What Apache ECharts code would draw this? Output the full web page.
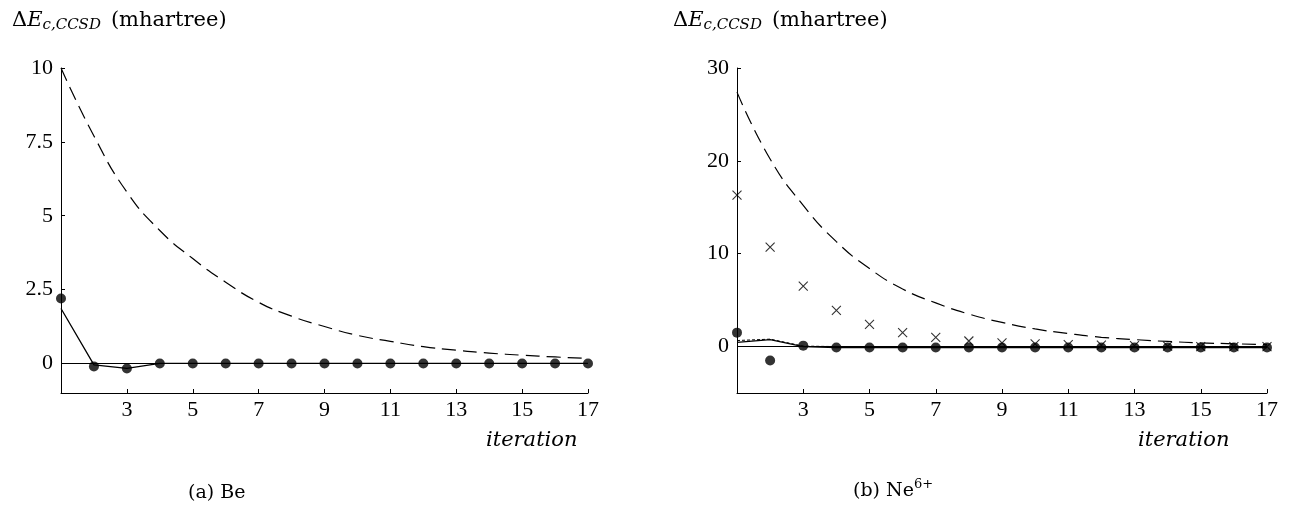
<!DOCTYPE html>
<html>
<head>
<meta charset="utf-8">
<script src="https://cdn.jsdelivr.net/npm/echarts@6/dist/echarts.min.js"></script>
<style>
  html, body { margin: 0; padding: 0; background: #fff; }
  #container { width: 1289px; height: 506px; }
</style>
</head>
<body>
<div id="container"></div>
<script>
// iteration numbers (x)
const iterations = [1, 2, 3, 4, 5, 6, 7, 8, 9, 10, 11, 12, 13, 14, 15, 16, 17];
const xTickLabels = [3, 5, 7, 9, 11, 13, 15, 17];

// (a) Be
const beDashed = [10, 7.7, 5.8, 4.5, 3.55, 2.75, 2.07, 1.6, 1.25, 0.95, 0.75, 0.57, 0.45, 0.35, 0.28, 0.22, 0.17];
const beSolid = [1.86, -0.05, -0.17, 0, 0, 0, 0, 0, 0, 0, 0, 0, 0, 0, 0, 0, 0];
const beDots = [2.2, -0.1, -0.17, 0, 0, 0, 0, 0, 0, 0, 0, 0, 0, 0, 0, 0, 0];
const beYTicks = [0, 2.5, 5, 7.5, 10];

// (b) Ne6+
const neDashed = [27.4, 20.2, 15.2, 11.3, 8.4, 6.2, 4.7, 3.5, 2.6, 1.9, 1.4, 1.0, 0.75, 0.55, 0.4, 0.3, 0.2];
const neSolid = [0.45, 0.75, 0, -0.1, -0.1, -0.1, -0.1, -0.1, -0.1, -0.1, -0.1, -0.1, -0.1, -0.1, -0.1, -0.1, -0.1];
const neDotted = [0.65, 0.8, 0.05, 0, 0, 0, 0, 0, 0, 0, 0, 0, 0, 0, 0, 0, 0];
const neDots = [1.5, -1.5, 0.1, -0.1, -0.1, -0.1, -0.1, -0.1, -0.1, -0.1, -0.1, -0.1, -0.1, -0.1, -0.1, -0.1, -0.1];
const neCross = [16.3, 10.7, 6.5, 3.9, 2.4, 1.5, 1.0, 0.6, 0.4, 0.3, 0.2, 0.15, 0.1, 0.05, 0, 0, 0];
const neYTicks = [0, 10, 20, 30];

const pairs = arr => iterations.map((x, i) => [x, arr[i]]);
const TICK_FONT = '"Liberation Serif", "Times New Roman", serif';
const TEX_FONT = '"DejaVu Serif", serif';

const dom = document.getElementById('container');
const myChart = echarts.init(dom);

function xAxisFor(gridIndex) {
    return {
        type: 'value', gridIndex: gridIndex, min: 1, max: 17,
        axisLine: { onZero: false, lineStyle: { color: '#000', width: 1 } },
        axisTick: { inside: true, length: 4, customValues: xTickLabels, lineStyle: { color: '#000' } },
        axisLabel: { customValues: xTickLabels, color: '#000', fontFamily: TICK_FONT, fontSize: 22, margin: 6 },
        splitLine: { show: false }
    };
}
function yAxisFor(gridIndex, min, max, ticks) {
    return {
        type: 'value', gridIndex: gridIndex, min: min, max: max,
        axisLine: { show: true, onZero: false, lineStyle: { color: '#000', width: 1 } },
        axisTick: { show: true, inside: true, length: 4, customValues: ticks, lineStyle: { color: '#000' } },
        axisLabel: { customValues: ticks, color: '#000', fontFamily: TICK_FONT, fontSize: 22, margin: 8 },
        splitLine: { show: false }
    };
}

const zeroLine = {
    silent: true, symbol: 'none', label: { show: false },
    lineStyle: { color: '#000', type: 'solid', width: 1 },
    data: [{ yAxis: 0 }]
};

const crossPath = 'path://M0,0L10,10M10,0L0,10';

const titleRich = {
    d: { fontFamily: TEX_FONT, fontSize: 21, color: '#000' },
    e: { fontFamily: TEX_FONT, fontSize: 21, fontStyle: 'italic', color: '#000' },
    s: { fontFamily: TEX_FONT, fontSize: 15, fontStyle: 'italic', color: '#000', padding: [9, 10, 0, 0] },
    n: { fontFamily: TEX_FONT, fontSize: 21, color: '#000' }
};
const titleText = '{d|Δ}{e|E}{s|c,CCSD}{n|(mhartree)}';

const option = {
    animation: false,
    backgroundColor: '#fff',
    grid: [
        { left: 61, right: 701, top: 68, bottom: 113 },
        { left: 737, right: 22, top: 68, bottom: 113 }
    ],
    xAxis: [xAxisFor(0), xAxisFor(1)],
    yAxis: [yAxisFor(0, -1, 10, beYTicks), yAxisFor(1, -5, 30, neYTicks)],
    graphic: [
        { type: 'text', left: 12, top: 10, style: { text: titleText, rich: titleRich } },
        { type: 'text', left: 673, top: 10, style: { text: titleText, rich: titleRich } },
        { type: 'text', left: 486, top: 430, style: { text: 'iteration', font: 'italic 21px ' + TEX_FONT, fill: '#000' } },
        { type: 'text', left: 1138, top: 430, style: { text: 'iteration', font: 'italic 21px ' + TEX_FONT, fill: '#000' } },
        { type: 'text', left: 188, top: 484, style: { text: '(a) Be', font: '19px ' + TEX_FONT, fill: '#000' } },
        { type: 'text', left: 853, top: 478, style: {
            text: '{t|(b) Ne}{p|6+}',
            rich: {
                t: { fontFamily: TEX_FONT, fontSize: 19, color: '#000', padding: [6, 0, 0, 0] },
                p: { fontFamily: TEX_FONT, fontSize: 13, color: '#000', padding: [0, 0, 8, 0] }
            }
        } }
    ],
    series: [
        // (a) Be
        { type: 'line', xAxisIndex: 0, yAxisIndex: 0, data: pairs(beDashed), smooth: true, symbol: 'none',
          lineStyle: { color: '#000', width: 1.2, type: [14, 7] } },
        { type: 'line', xAxisIndex: 0, yAxisIndex: 0, data: pairs(beSolid), symbol: 'none',
          lineStyle: { color: '#000', width: 1.3 }, markLine: zeroLine },
        { type: 'scatter', xAxisIndex: 0, yAxisIndex: 0, data: pairs(beDots), symbol: 'circle', symbolSize: 10,
          itemStyle: { color: '#000' } },
        // (b) Ne6+
        { type: 'line', xAxisIndex: 1, yAxisIndex: 1, data: pairs(neDashed), smooth: true, symbol: 'none',
          lineStyle: { color: '#000', width: 1.2, type: [14, 7] } },
        { type: 'line', xAxisIndex: 1, yAxisIndex: 1, data: pairs(neDotted), symbol: 'none',
          lineStyle: { color: '#000', width: 1, type: [3, 2] } },
        { type: 'line', xAxisIndex: 1, yAxisIndex: 1, data: pairs(neSolid), symbol: 'none',
          lineStyle: { color: '#000', width: 1.3 }, markLine: zeroLine },
        { type: 'scatter', xAxisIndex: 1, yAxisIndex: 1, data: pairs(neCross), symbol: crossPath, symbolSize: 9,
          itemStyle: { color: 'rgba(0,0,0,0)', borderColor: '#000', borderWidth: 1.1 } },
        { type: 'scatter', xAxisIndex: 1, yAxisIndex: 1, data: pairs(neDots), symbol: 'circle', symbolSize: 10,
          itemStyle: { color: '#000' } }
    ]
};

myChart.setOption(option);
</script>
</body>
</html>
